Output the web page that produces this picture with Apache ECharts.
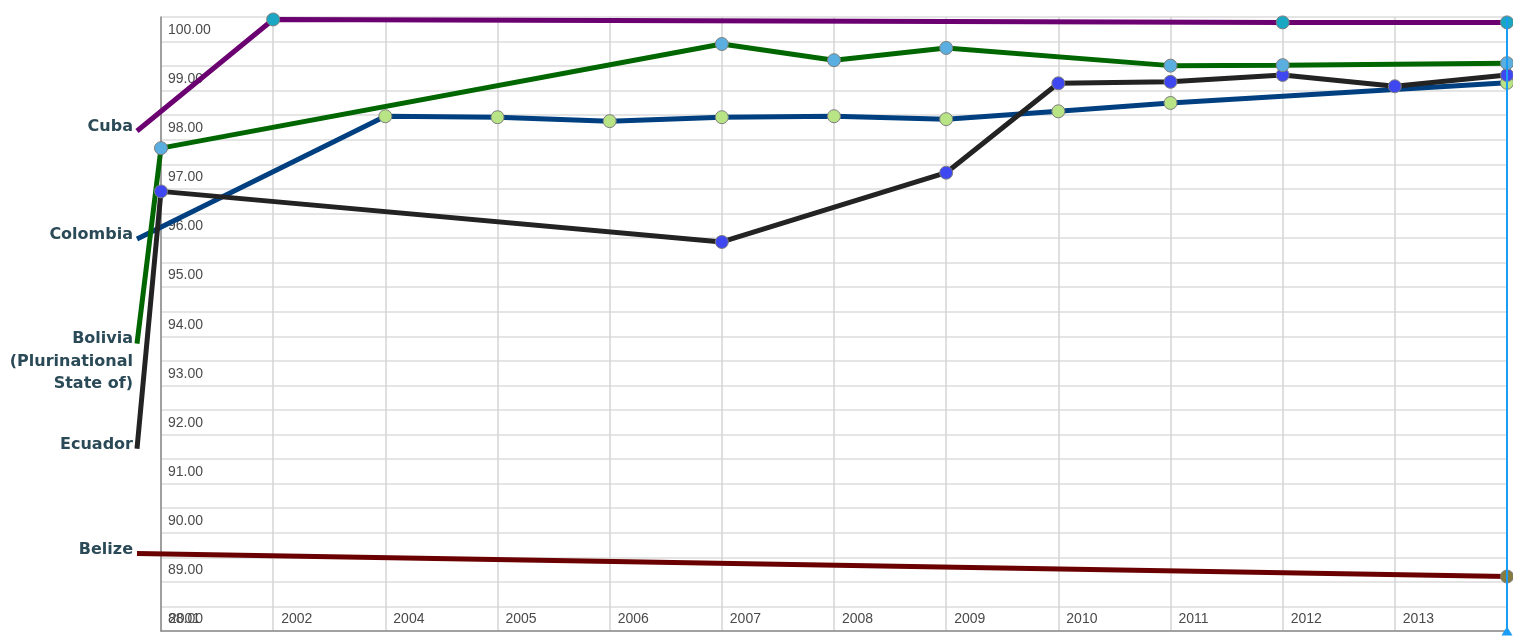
<!DOCTYPE html>
<html>
<head>
<meta charset="utf-8">
<script src="https://cdn.jsdelivr.net/npm/echarts@6/dist/echarts.min.js"></script>
<style>
  html, body { margin: 0; padding: 0; background: #fff; }
  #chart { width: 1513px; height: 641px; }
</style>
</head>
<body>
<div id="chart"></div>
<script>
// x positions are evenly spaced slots, one per reported year
var years = ["2001", "2002", "2004", "2005", "2006", "2007", "2008", "2009", "2010", "2011", "2012", "2013", "2014"];

var cuba     = [null, 99.95, null, null, null, null, null, null, null, null, 99.89, null, 99.89];
var colombia = [null, null, 97.98, 97.96, 97.88, 97.96, 97.98, 97.92, 98.08, 98.25, null, null, 98.66];
var bolivia  = [97.33, null, null, null, null, 99.45, 99.12, 99.37, null, 99.01, 99.02, null, 99.06];
var ecuador  = [96.45, null, null, null, null, 95.42, null, 96.83, 98.65, 98.68, 98.82, 98.59, 98.82];
var belize   = [null, null, null, null, null, null, null, null, null, null, null, null, 88.61];

// where each name label sits on the value scale (leader line start)
var leadValues = { cuba: 97.68, colombia: 95.48, bolivia: 93.35, ecuador: 91.21, belize: 89.08 };

var yTicks = [88, 89, 90, 91, 92, 93, 94, 95, 96, 97, 98, 99, 100];

var LEAD_X = -0.214; // labels sit just left of the first slot

var W = 1513, LEFT = 161, RIGHT = 6, TOP = 17, BOTTOM = 10;
var slot = (W - LEFT - RIGHT) / (years.length - 1);

function makeSeries(name, text, values, lead, lineColor, dotColor, extraLabel) {
  var first = {
    value: [LEAD_X, lead],
    symbolSize: 0,
    itemStyle: { borderWidth: 0 },
    label: Object.assign({ show: true, formatter: text }, extraLabel || {})
  };
  var data = [first];
  values.forEach(function (v, i) {
    if (v != null) data.push([i, v]);
  });
  return {
    type: "line",
    name: name,
    xAxisIndex: 1,
    yAxisIndex: 1,
    data: data,
    showAllSymbol: true,
    symbol: "circle",
    symbolSize: 13,
    lineStyle: { color: lineColor, width: 5 },
    itemStyle: { color: dotColor, borderColor: "#7d7d7d", borderWidth: 1 },
    label: {
      show: false,
      position: "left",
      distance: 4,
      offset: [0, -4],
      fontFamily: "DejaVu Sans",
      fontWeight: "bold",
      fontSize: 16,
      color: "#2b4a57"
    },
    emphasis: { disabled: true }
  };
}

var belizeSeries = makeSeries("Belize", "Belize", belize, leadValues.belize, "#6a0000", "#857a40");
// hover cursor line on the last year
belizeSeries.markLine = {
  silent: true,
  symbol: ["triangle", "none"],
  symbolSize: [11, 9],
  symbolRotate: 0,
  symbolOffset: [0, 6],
  lineStyle: { color: "#1a9cf5", width: 2, type: "solid" },
  label: { show: false },
  data: [{ xAxis: 12 }]
};

var myChart = echarts.init(document.getElementById("chart"));
myChart.setOption({
  animation: false,
  tooltip: { show: false },
  grid: [
    { left: LEFT, right: RIGHT, top: TOP, bottom: BOTTOM },
    // same scale, widened one slot to the left so the name leaders are not cut
    { left: LEFT - slot, right: RIGHT, top: TOP, bottom: BOTTOM }
  ],
  xAxis: [
    {
      type: "value",
      gridIndex: 0,
      min: 0,
      max: 12,
      interval: 1,
      axisLine: { show: true, lineStyle: { color: "#8a8a8a", width: 1.5 } },
      axisTick: { show: false },
      axisLabel: {
        inside: true,
        margin: 5,
        align: "left",
        padding: [0, 0, 0, 8],
        showMaxLabel: false,
        fontFamily: "Liberation Sans",
        fontSize: 14,
        color: "#4a4a4a",
        formatter: function (v) { return years[v] || ""; }
      },
      splitLine: { show: true, lineStyle: { color: "#d4d4d4", width: 1.5 } }
    },
    { type: "value", gridIndex: 1, min: -1, max: 12, show: false }
  ],
  yAxis: [
    {
      type: "value",
      gridIndex: 0,
      min: 87.5,
      max: 100,
      interval: 0.5,
      axisLine: { show: true, lineStyle: { color: "#8a8a8a", width: 1.5 } },
      axisTick: { show: false },
      axisLabel: {
        inside: true,
        margin: 7,
        verticalAlign: "top",
        padding: [6, 0, 0, 0],
        fontFamily: "Liberation Sans",
        fontSize: 14,
        color: "#4a4a4a",
        formatter: function (v) {
          return yTicks.indexOf(v) >= 0 ? v.toFixed(2) : "";
        }
      },
      splitLine: { show: true, lineStyle: { color: "#dcdcdc", width: 1.5 } }
    },
    { type: "value", gridIndex: 1, min: 87.5, max: 100, show: false }
  ],
  series: [
    belizeSeries,
    makeSeries("Colombia", "Colombia", colombia, leadValues.colombia, "#004080", "#b8e486"),
    makeSeries("Ecuador", "Ecuador", ecuador, leadValues.ecuador, "#232323", "#3f48f0"),
    makeSeries("Bolivia (Plurinational State of)", "Bolivia\n(Plurinational\nState of)", bolivia,
      leadValues.bolivia, "#006600", "#5aafe0",
      { verticalAlign: "top", lineHeight: 22.5, offset: [0, -16] }),
    makeSeries("Cuba", "Cuba", cuba, leadValues.cuba, "#6b0070", "#1aa7c4")
  ]
});
</script>
</body>
</html>
